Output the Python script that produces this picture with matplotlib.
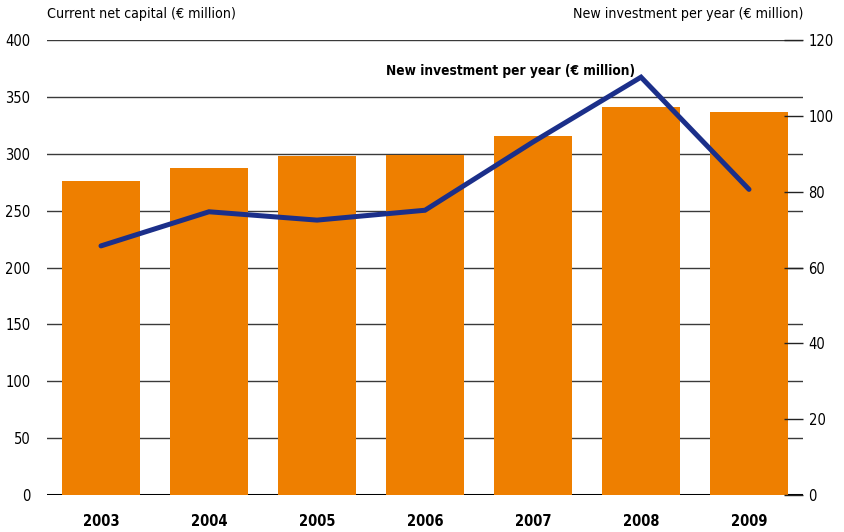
import matplotlib
matplotlib.use("Agg")
import matplotlib.pyplot as plt
import numpy as np

# Данные
years = ["2003", "2004", "2005", "2006", "2007", "2008", "2009"]
net_capital = [276, 287.5, 298, 299, 315.5, 341, 336.5]
new_investment = [65.7, 74.7, 72.5, 75.1, 93.1, 110.2, 80.6]

left_ticks = [0, 50, 100, 150, 200, 250, 300, 350, 400]
right_ticks = [0, 20, 40, 60, 80, 100, 120]

bar_color = "#EE7F00"
line_color = "#1B2F8A"
grid_color = "#3a3a3a"

plt.rcParams["font.family"] = ["DejaVu Sans"]
plt.rcParams["font.stretch"] = "condensed"

fig = plt.figure(figsize=(8.45, 5.32), dpi=100)
ax = fig.add_axes([47 / 845, 1 - 495 / 532, (803 - 47) / 845, (495 - 40) / 532])

x = np.arange(len(years))

# Сетка по левой оси
for t in left_ticks[1:]:
    ax.axhline(t, color=grid_color, lw=1.0, zorder=1)
ax.axhline(0, color="black", lw=2.2, zorder=1)

ax.bar(x, net_capital, width=0.72, color=bar_color, zorder=2)

ax.set_xlim(-0.5, 6.5)
ax.set_ylim(0, 400)
ax.set_yticks(left_ticks)
ax.set_yticklabels([str(t) for t in left_ticks], fontsize=10.5)
ax.tick_params(axis="y", length=0, pad=12)
ax.set_xticks(x)
ax.set_xticklabels(years, fontsize=10.5, fontweight="bold")
ax.tick_params(axis="x", length=0, pad=14)
for s in ax.spines.values():
    s.set_visible(False)

# Правая ось — инвестиции
ax2 = ax.twinx()
ax2.plot(x, new_investment, color=line_color, lw=3.6, zorder=5,
         solid_joinstyle="miter", solid_capstyle="round")
ax2.set_ylim(0, 120)
ax2.set_yticks(right_ticks)
ax2.set_yticklabels([str(t) for t in right_ticks], fontsize=10.5)
ax2.tick_params(axis="y", direction="in", length=14, width=1.0,
                color="#222222", pad=4)
for s in ax2.spines.values():
    s.set_visible(False)

ax2.text(3.79, 111.8, "New investment per year (€ million)", fontsize=9.8,
         fontweight="bold", ha="center", va="center")

fig.text(47 / 845, 1 - 14 / 532, "Current net capital (€ million)",
         fontsize=10.2, ha="left", va="center")
fig.text(803 / 845, 1 - 14 / 532, "New investment per year (€ million)",
         fontsize=10.2, ha="right", va="center")

fig.savefig("out.png", dpi=100)
